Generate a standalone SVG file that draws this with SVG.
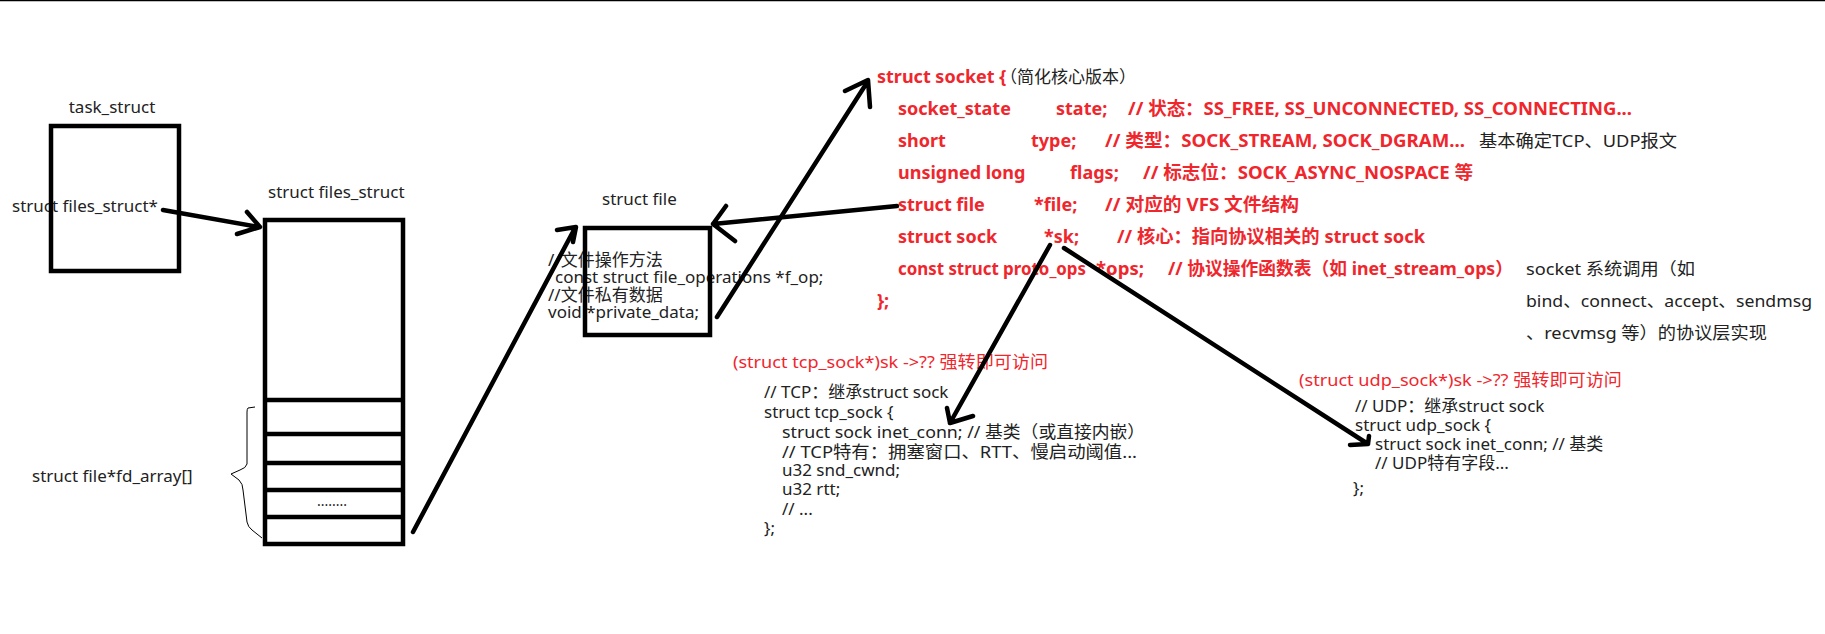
<svg xmlns="http://www.w3.org/2000/svg" width="1825" height="634" viewBox="0 0 1825 634">
<style>
text{font-family:"Noto Sans","Noto Sans CJK SC",sans-serif;font-size:17px;fill:#222}
.r{fill:#f0262d;font-weight:bold;font-size:18px}
.rn{fill:#f0262d}
.box{fill:none;stroke:#000;stroke-width:4.5}
.ln{fill:none;stroke:#000;stroke-width:4.5;stroke-linecap:round;stroke-linejoin:round}
.brace{fill:none;stroke:#000;stroke-width:1}
</style>
<rect width="1825" height="634" fill="#fff"/>
<line x1="0" y1="0.5" x2="1825" y2="0.5" stroke="#000" stroke-width="1.5"/>

<g id="task_struct">
<text x="112" y="113" text-anchor="middle">task_struct</text>
<text x="12" y="212">struct files_struct*</text>
<rect class="box" x="51" y="126" width="128" height="145"/>
</g>

<g id="files_struct">
<text x="268" y="198">struct files_struct</text>
<path class="box" d="M265 220H403V544H265Z M265 400H403 M265 434H403 M265 463H403 M265 490H403 M265 517H403"/>
<text x="317" y="506" style="font-size:14px">........</text>
<path class="brace" d="M255 407L248 408Q247 409 247 412L247 464Q246 468 240 470L231 474L239 480Q243 484 243 490L247 522Q248 527 252 530L262 538"/>
<text x="32" y="482">struct file*fd_array[]</text>
</g>

<g id="struct_file">
<text x="602" y="205">struct file</text>
<text x="548" y="266">//文件操作方法</text>
<text x="555" y="283">const struct file_operations *f_op;</text>
<text x="548" y="301">//文件私有数据</text>
<text x="548" y="318">void *private_data;</text>
<rect class="box" x="585" y="228" width="125" height="107"/>
</g>

<g id="struct_socket">
<text class="r" x="877" y="83">struct socket {</text>
<text x="1000" y="83">（简化核心版本）</text>
<text class="r" x="898" y="115">socket_state</text>
<text class="r" x="1056" y="115">state;</text>
<text class="r" x="1128" y="115" textLength="504" lengthAdjust="spacingAndGlyphs">// 状态：SS_FREE, SS_UNCONNECTED, SS_CONNECTING...</text>
<text class="r" x="898" y="147">short</text>
<text class="r" x="1031" y="147">type;</text>
<text class="r" x="1105" y="147" textLength="360" lengthAdjust="spacingAndGlyphs">// 类型：SOCK_STREAM, SOCK_DGRAM...</text>
<text x="1479" y="147" textLength="198" lengthAdjust="spacingAndGlyphs">基本确定TCP、UDP报文</text>
<text class="r" x="898" y="179">unsigned long</text>
<text class="r" x="1070" y="179">flags;</text>
<text class="r" x="1143" y="179" textLength="330" lengthAdjust="spacingAndGlyphs">// 标志位：SOCK_ASYNC_NOSPACE 等</text>
<text class="r" x="898" y="211">struct file</text>
<text class="r" x="1034" y="211">*file;</text>
<text class="r" x="1105" y="211" textLength="194" lengthAdjust="spacingAndGlyphs">// 对应的 VFS 文件结构</text>
<text class="r" x="898" y="243">struct sock</text>
<text class="r" x="1044" y="243">*sk;</text>
<text class="r" x="1117" y="243" textLength="308" lengthAdjust="spacingAndGlyphs">// 核心：指向协议相关的 struct sock</text>
<text class="r" x="898" y="275" textLength="188" lengthAdjust="spacingAndGlyphs">const struct proto_ops</text>
<text class="r" x="1096" y="275" textLength="48" lengthAdjust="spacingAndGlyphs">*ops;</text>
<text class="r" x="1168" y="275" textLength="345" lengthAdjust="spacingAndGlyphs">// 协议操作函数表（如 inet_stream_ops）</text>
<text class="r" x="877" y="307">};</text>
<text x="1526" y="275" textLength="169" lengthAdjust="spacingAndGlyphs">socket 系统调用（如</text>
<text x="1526" y="307" textLength="286" lengthAdjust="spacingAndGlyphs">bind、connect、accept、sendmsg</text>
<text x="1526" y="339" textLength="241" lengthAdjust="spacingAndGlyphs">、recvmsg 等）的协议层实现</text>
</g>

<g id="tcp_sock">
<text class="rn" x="733" y="368" textLength="315" lengthAdjust="spacingAndGlyphs">(struct tcp_sock*)sk -&gt;?? 强转即可访问</text>
<text x="764" y="398">// TCP：继承struct sock</text>
<text x="764" y="418">struct tcp_sock {</text>
<text x="782" y="438" textLength="363" lengthAdjust="spacingAndGlyphs">struct sock inet_conn;  // 基类（或直接内嵌）</text>
<text x="782" y="458" textLength="355" lengthAdjust="spacingAndGlyphs">// TCP特有：拥塞窗口、RTT、慢启动阈值...</text>
<text x="782" y="476">u32 snd_cwnd;</text>
<text x="782" y="495">u32 rtt;</text>
<text x="782" y="515">// ...</text>
<text x="764" y="534">};</text>
</g>

<g id="udp_sock">
<text class="rn" x="1299" y="386" textLength="323" lengthAdjust="spacingAndGlyphs">(struct udp_sock*)sk -&gt;?? 强转即可访问</text>
<text x="1355" y="412">// UDP：继承struct sock</text>
<text x="1355" y="431">struct udp_sock {</text>
<text x="1375" y="450">struct sock inet_conn;  // 基类</text>
<text x="1375" y="469">// UDP特有字段...</text>
<text x="1353" y="494">};</text>
</g>

<g id="connectors">
<path class="ln" d="M163 210L259 227M247 212L260 227L237 234"/>
<path class="ln" d="M413 532L575 228M557 230L576 227L573 242"/>
<path class="ln" d="M717 317L868 81M845 91L868 80L870 107"/>
<path class="ln" d="M897 206L713 224M726 206L713 224L735 241"/>
<path class="ln" d="M1050 245L950 423M947 408L950 423L973 416"/>
<path class="ln" d="M1064 248L1368 444M1350 445L1368 444L1369 436"/>
</g>
</svg>
